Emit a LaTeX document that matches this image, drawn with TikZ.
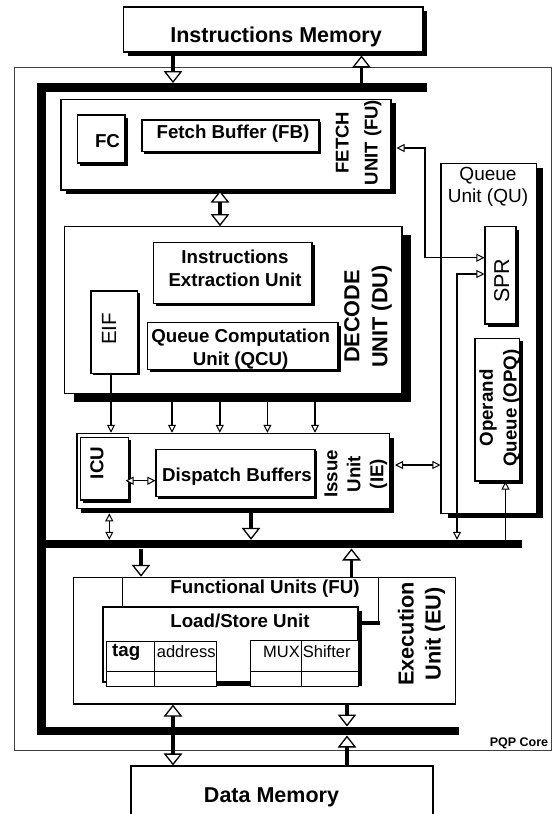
\documentclass[tikz,border=0pt]{standalone}
\usepackage{fontspec}
\setmainfont{Liberation Sans}
\usetikzlibrary{arrows.meta,fit,shadows}
\newcommand\myfs[2]{\fontsize{#1}{#2}\selectfont}
\begin{document}
\begin{tikzpicture}[x=1pt,y=-1pt,
  box/.style={draw, fill=white, line width=1.1pt, inner sep=0pt},
  shad/.style 2 args={general shadow={fill=black, shadow xshift=#1pt, shadow yshift=-#2pt}},
  bus/.style={fill=black, draw=none, inner sep=0pt},
  bighead/.tip={Triangle[length=12pt,width=18.5pt,fill=white,line width=1.3pt]},
  smallhead/.tip={Triangle[length=8pt,width=8pt,fill=white,line width=1pt]},
  big/.style={line width=3.5pt, -bighead},
  bigboth/.style={line width=3.5pt, bighead-bighead},
  small/.style={line width=1.5pt, -smallhead},
  smallboth/.style={line width=1.5pt, smallhead-smallhead},
  t19/.style={font=\bfseries\myfs{18.7}{22.6}, inner sep=0pt, align=center},
  tbig/.style={font=\bfseries\myfs{21.5}{25}, inner sep=0pt, align=center},
  treg/.style={font=\myfs{16.5}{18}, inner sep=0pt}
]
\useasboundingbox (0,0) rectangle (553,814);
\begin{scope}
\clip (0,0) rectangle (553,814);
% core
\node[draw=black!75, line width=1pt, inner sep=0pt, fit={(14.8,67.7) (551.6,750)}] (core) {};
\node[font=\bfseries\myfs{12.5}{14}, inner sep=0pt] (pqp) at (519,743) {PQP Core};
% buses
\node[bus, fit={(37,83.3) (427,92)}] (topbus) {};
\node[bus, fit={(37,83.3) (46,735.3)}] (leftbus) {};
\node[bus, fit={(37,540) (521.5,548.3)}] (midbus) {};
\node[bus, fit={(37,726.7) (458.5,735.3)}] (botbus) {};
% instructions memory
\node[box, shad={4}{3.5}, fit={(123.5,7) (423,52)}] (im) {};
\node[tbig] (imt) at (276,36.5) {Instructions Memory};
% fetch unit
\node[box, shad={5}{3.5}, fit={(61,99.5) (391,190)}] (fu) {};
\node[box, shad={2.5}{2.5}, fit={(77.6,115) (125,163)}] (fc) {};
\node[t19] (fct) at (107.5,141.5) {FC};
\node[box, shad={2}{2}, fit={(142,120) (319,151.7)}] (fb) {};
\node[t19] (fbt) at (233,133.5) {Fetch Buffer (FB)};
\node[font=\bfseries\myfs{18.5}{29}, inner sep=0pt, align=center, rotate=90] (fut) at (358.5,142.5) {FETCH\\UNIT (FU)};
% decode unit
\node[box, shad={9}{8.5}, fit={(64.5,226.7) (402,393.3)}] (du) {};
\node[box, shad={2.5}{2.5}, fit={(153.4,242.3) (312,303.3)}] (ieu) {};
\node[t19] (ieut) at (235,268.5) {Instructions\\Extraction Unit};
\node[box, shad={2}{2}, fit={(91,291) (137.6,373.3)}] (eif) {};
\node[font=\myfs{20.5}{24}, inner sep=0pt, rotate=90] (eift) at (109,329) {EIF};
\node[box, shad={3}{3}, fit={(147.4,322.7) (338,369.3)}] (qcu) {};
\node[t19] (qcut) at (240.7,349) {Queue Computation\\Unit (QCU)};
\node[font=\bfseries\myfs{21.7}{28}, inner sep=0pt, align=center, rotate=90] (dut) at (368,316.5) {DECODE\\UNIT (DU)};
% issue unit
\node[box, shad={4}{5}, fit={(77,433.3) (389.8,508.3)}] (ie) {};
\node[box, shad={2.5}{2.5}, fit={(80.4,437.7) (128.7,500)}] (icu) {};
\node[t19, rotate=90] (icut) at (97,463) {ICU};
\node[box, shad={2}{2}, fit={(156,449.3) (315,496.7)}] (db) {};
\node[t19] (dbt) at (237,477) {Dispatch Buffers};
\node[font=\bfseries\myfs{18.7}{23}, inner sep=0pt, align=center, rotate=90] (iet) at (356,474) {Issue\\Unit\\(IE)};
% queue unit
\node[box, shad={6.5}{5}, fit={(441,163.3) (536.7,513.3)}] (qu) {};
\node[font=\myfs{19}{21.7}, inner sep=0pt, align=center] (qut) at (488,187) {Queue\\Unit (QU)};
\node[box, shad={3}{3}, fit={(485,226.7) (516,324)}] (spr) {};
\node[font=\myfs{21.5}{24}, inner sep=0pt, rotate=90] (sprt) at (501.7,280.7) {SPR};
\node[box, shad={3.5}{2.5}, fit={(475,338.3) (519.3,481)}] (opq) {};
\node[font=\bfseries\myfs{18.7}{23.7}, inner sep=0pt, align=center, rotate=90] (opqt) at (500,408) {Operand\\Queue (OPQ)};
% execution unit
\node[box, fit={(73.4,577.3) (455.7,704)}] (eu) {};
\node[box, line width=1pt, fit={(122.4,577.3) (378.5,624)}] (fureg) {};
\node[t19] (furegt) at (265,588.5) {Functional Units (FU)};
\draw[line width=4pt] (359,622.5) -- (379.5,622.5);
\node[box, shad={3.5}{3.5}, fit={(103,607) (358,682)}] (lsu) {};
\node[t19] (lsut) at (240,621) {Load/Store Unit};
\draw[fill=white, line width=1pt] (106,641.7) rectangle (216,686);
\draw[line width=1pt] (154.3,641.7) -- (154.3,686) (106,671) -- (216,671);
\draw[fill=white, line width=1pt] (250,640) rectangle (358.3,686);
\draw[line width=1pt] (301,640) -- (301,686) (250,671) -- (358.3,671);
\node[t19, anchor=base west] (tagt) at (112,656.5) {tag};
\begin{scope}
\clip (154.8,642) rectangle (215.5,670);
\node[treg, anchor=base west] (addrt) at (156.7,657.5) {address};
\end{scope}
\node[treg, anchor=base east] (muxt) at (300,657.5) {MUX};
\node[treg, anchor=base west] (shiftt) at (302.7,657.5) {Shifter};
\node[font=\bfseries\myfs{21.7}{27}, inner sep=0pt, align=center, rotate=90] (eut) at (421.5,634) {Execution\\Unit (EU)};
% data memory
\node[box, fit={(131,766) (433,830)}] (dm) {};
\node[tbig] (dmt) at (271.5,797) {Data Memory};
% coordinates
\coordinate (xa) at (173,0);
\coordinate (xb) at (361.5,0);
\coordinate (imsh) at (361.5,55.5);
\coordinate (xc) at (220,0);
\coordinate (f1) at (396.5,148);
\coordinate (f2) at (425,257.7);
\coordinate (s1) at (457,274);
\coordinate (xe) at (111,0);
\coordinate (i1) at (125.5,480.7);
\coordinate (q1) at (395,465);
\coordinate (v1) at (109.3,513.3);
\coordinate (x251) at (251,0);
\coordinate (x505) at (505.5,0);
\coordinate (x141) at (141,0);
\coordinate (x351) at (351.5,0);
\coordinate (x347) at (347,0);
% connectors
\draw[big] (im.south -| xa) -- (topbus.north -| xa);
\draw[big] (topbus.north -| xb) -- (imsh);
\draw[bigboth] (fu.south -| xc) -- (du.north -| xc);
\draw[smallboth] (f1) -- (f1 -| f2) -- (f2) -- (spr.west |- f2);
\draw[smallboth] (spr.west |- s1) -- (s1) -- (midbus.north -| s1);
\draw[small] (eif.south -| xe) -- (ie.north -| xe);
\foreach \x [count=\i] in {172,219.8,267.4,315} {
  \coordinate (d\i) at (\x,401.7);
  \draw[small] (d\i) -- (ie.north -| d\i);
}
\draw[smallboth] (i1) -- (db.west |- i1);
\draw[smallboth] (q1) -- (qu.west |- q1);
\draw[smallboth] (v1) -- (midbus.north -| v1);
\draw[big] (ie.south -| x251) -- (midbus.north -| x251);
\draw[small] (midbus.north -| x505) -- (opq.south -| x505);
\draw[big] (midbus.south -| x141) -- (eu.north -| x141);
\draw[big] (eu.north -| x351) -- (midbus.south -| x351);
\draw[bigboth] (eu.south -| xa) -- (dm.north -| xa);
\draw[big] (eu.south -| x347) -- (botbus.north -| x347);
\draw[big] (dm.north -| x347) -- (botbus.south -| x347);
\end{scope}
\end{tikzpicture}
\end{document}
